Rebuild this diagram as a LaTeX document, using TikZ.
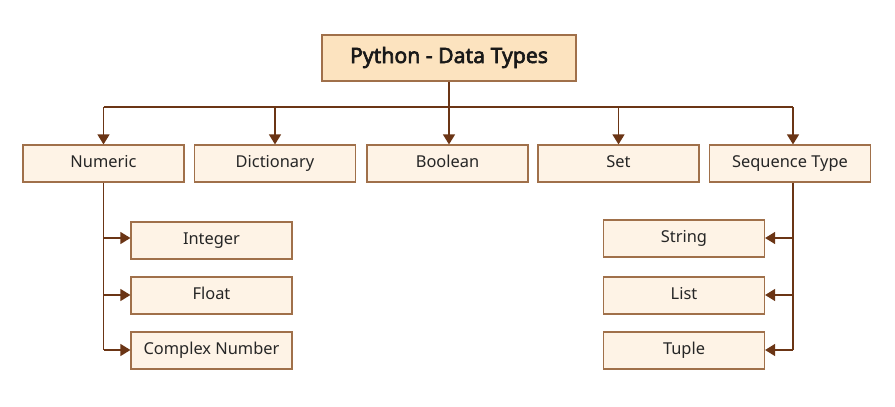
\documentclass[tikz,border=0pt]{standalone}
\usepackage{fontspec}
\setmainfont{Noto Sans}
\newfontfamily\titlefont{Noto Sans}[FakeBold=2.8]
\usetikzlibrary{arrows.meta}
\definecolor{boxfill}{HTML}{FEF3E6}
\definecolor{titlefill}{HTML}{FCE3BF}
\definecolor{boxline}{HTML}{A0704A}
\definecolor{conn}{HTML}{6B3515}
\tikzset{
  x=1pt, y=-1pt,
  typebox/.style={draw=boxline, fill=boxfill, line width=1.2pt, minimum width=161pt, minimum height=37pt, inner sep=0pt, text height=12pt, text depth=4pt, font=\fontsize{16.4}{19}\selectfont, text=black!85},
  titlebox/.style={draw=boxline, fill=titlefill, line width=1.2pt, minimum width=254pt, minimum height=46pt, inner sep=0pt, text height=15pt, text depth=5pt, font=\titlefont\fontsize{21.2}{24}\selectfont, text=black!90},
  conline/.style={draw=conn, line width=1.3pt},
  conarrow/.style={conline, -{Triangle[width=12pt,length=10pt]}}
}
\begin{document}
\begin{tikzpicture}
\fill[white] (0,0) rectangle (895,407);
\useasboundingbox (0,0) rectangle (895,407);
\node[titlebox] (title) at (449,58) {Python - Data Types};
\node[typebox] (num) at (103.5,163.5) {Numeric};
\node[typebox] (dict) at (275,163.5) {Dictionary};
\node[typebox] (bool) at (447.5,163.5) {Boolean};
\node[typebox] (set) at (618.5,163.5) {Set};
\node[typebox] (seq) at (790,163.5) {Sequence Type};
\node[typebox] (int) at (211.5,240.5) {Integer};
\node[typebox] (flt) at (211.5,295.5) {Float};
\node[typebox] (cpx) at (211.5,350.5) {Complex Number};
\node[typebox] (str) at (684,238.5) {String};
\node[typebox] (lst) at (684,295.5) {List};
\node[typebox] (tup) at (684,350.5) {Tuple};
\coordinate (hl) at (103.5,107);
\coordinate (hr) at (793,107);
\coordinate (hm) at (449,107);
\draw[conline] (title.south) -- (hm);
\draw[conline] (hl) -- (hr);
\draw[conarrow] (hl) -- (num.north);
\draw[conarrow] (hl -| dict.north) -- (dict.north);
\draw[conarrow] (hm) -- (hm |- bool.north);
\draw[conarrow] (hl -| set.north) -- (set.north);
\draw[conarrow] (hr) -- (hr |- seq.north);
\coordinate (nv) at (103.5,350);
\draw[conline] (num.south) -- (nv);
\draw[conarrow] (103.5,238) -- (int.west |- 0,238);
\draw[conarrow] (103.5,295) -- (flt.west |- 0,295);
\draw[conarrow] (nv) -- (cpx.west |- nv);
\coordinate (sv) at (793,350);
\draw[conline] (seq.south -| sv) -- (sv);
\draw[conarrow] (793,238) -- (str.east |- 0,238);
\draw[conarrow] (793,295) -- (lst.east |- 0,295);
\draw[conarrow] (sv) -- (tup.east |- sv);
\end{tikzpicture}
\end{document}
